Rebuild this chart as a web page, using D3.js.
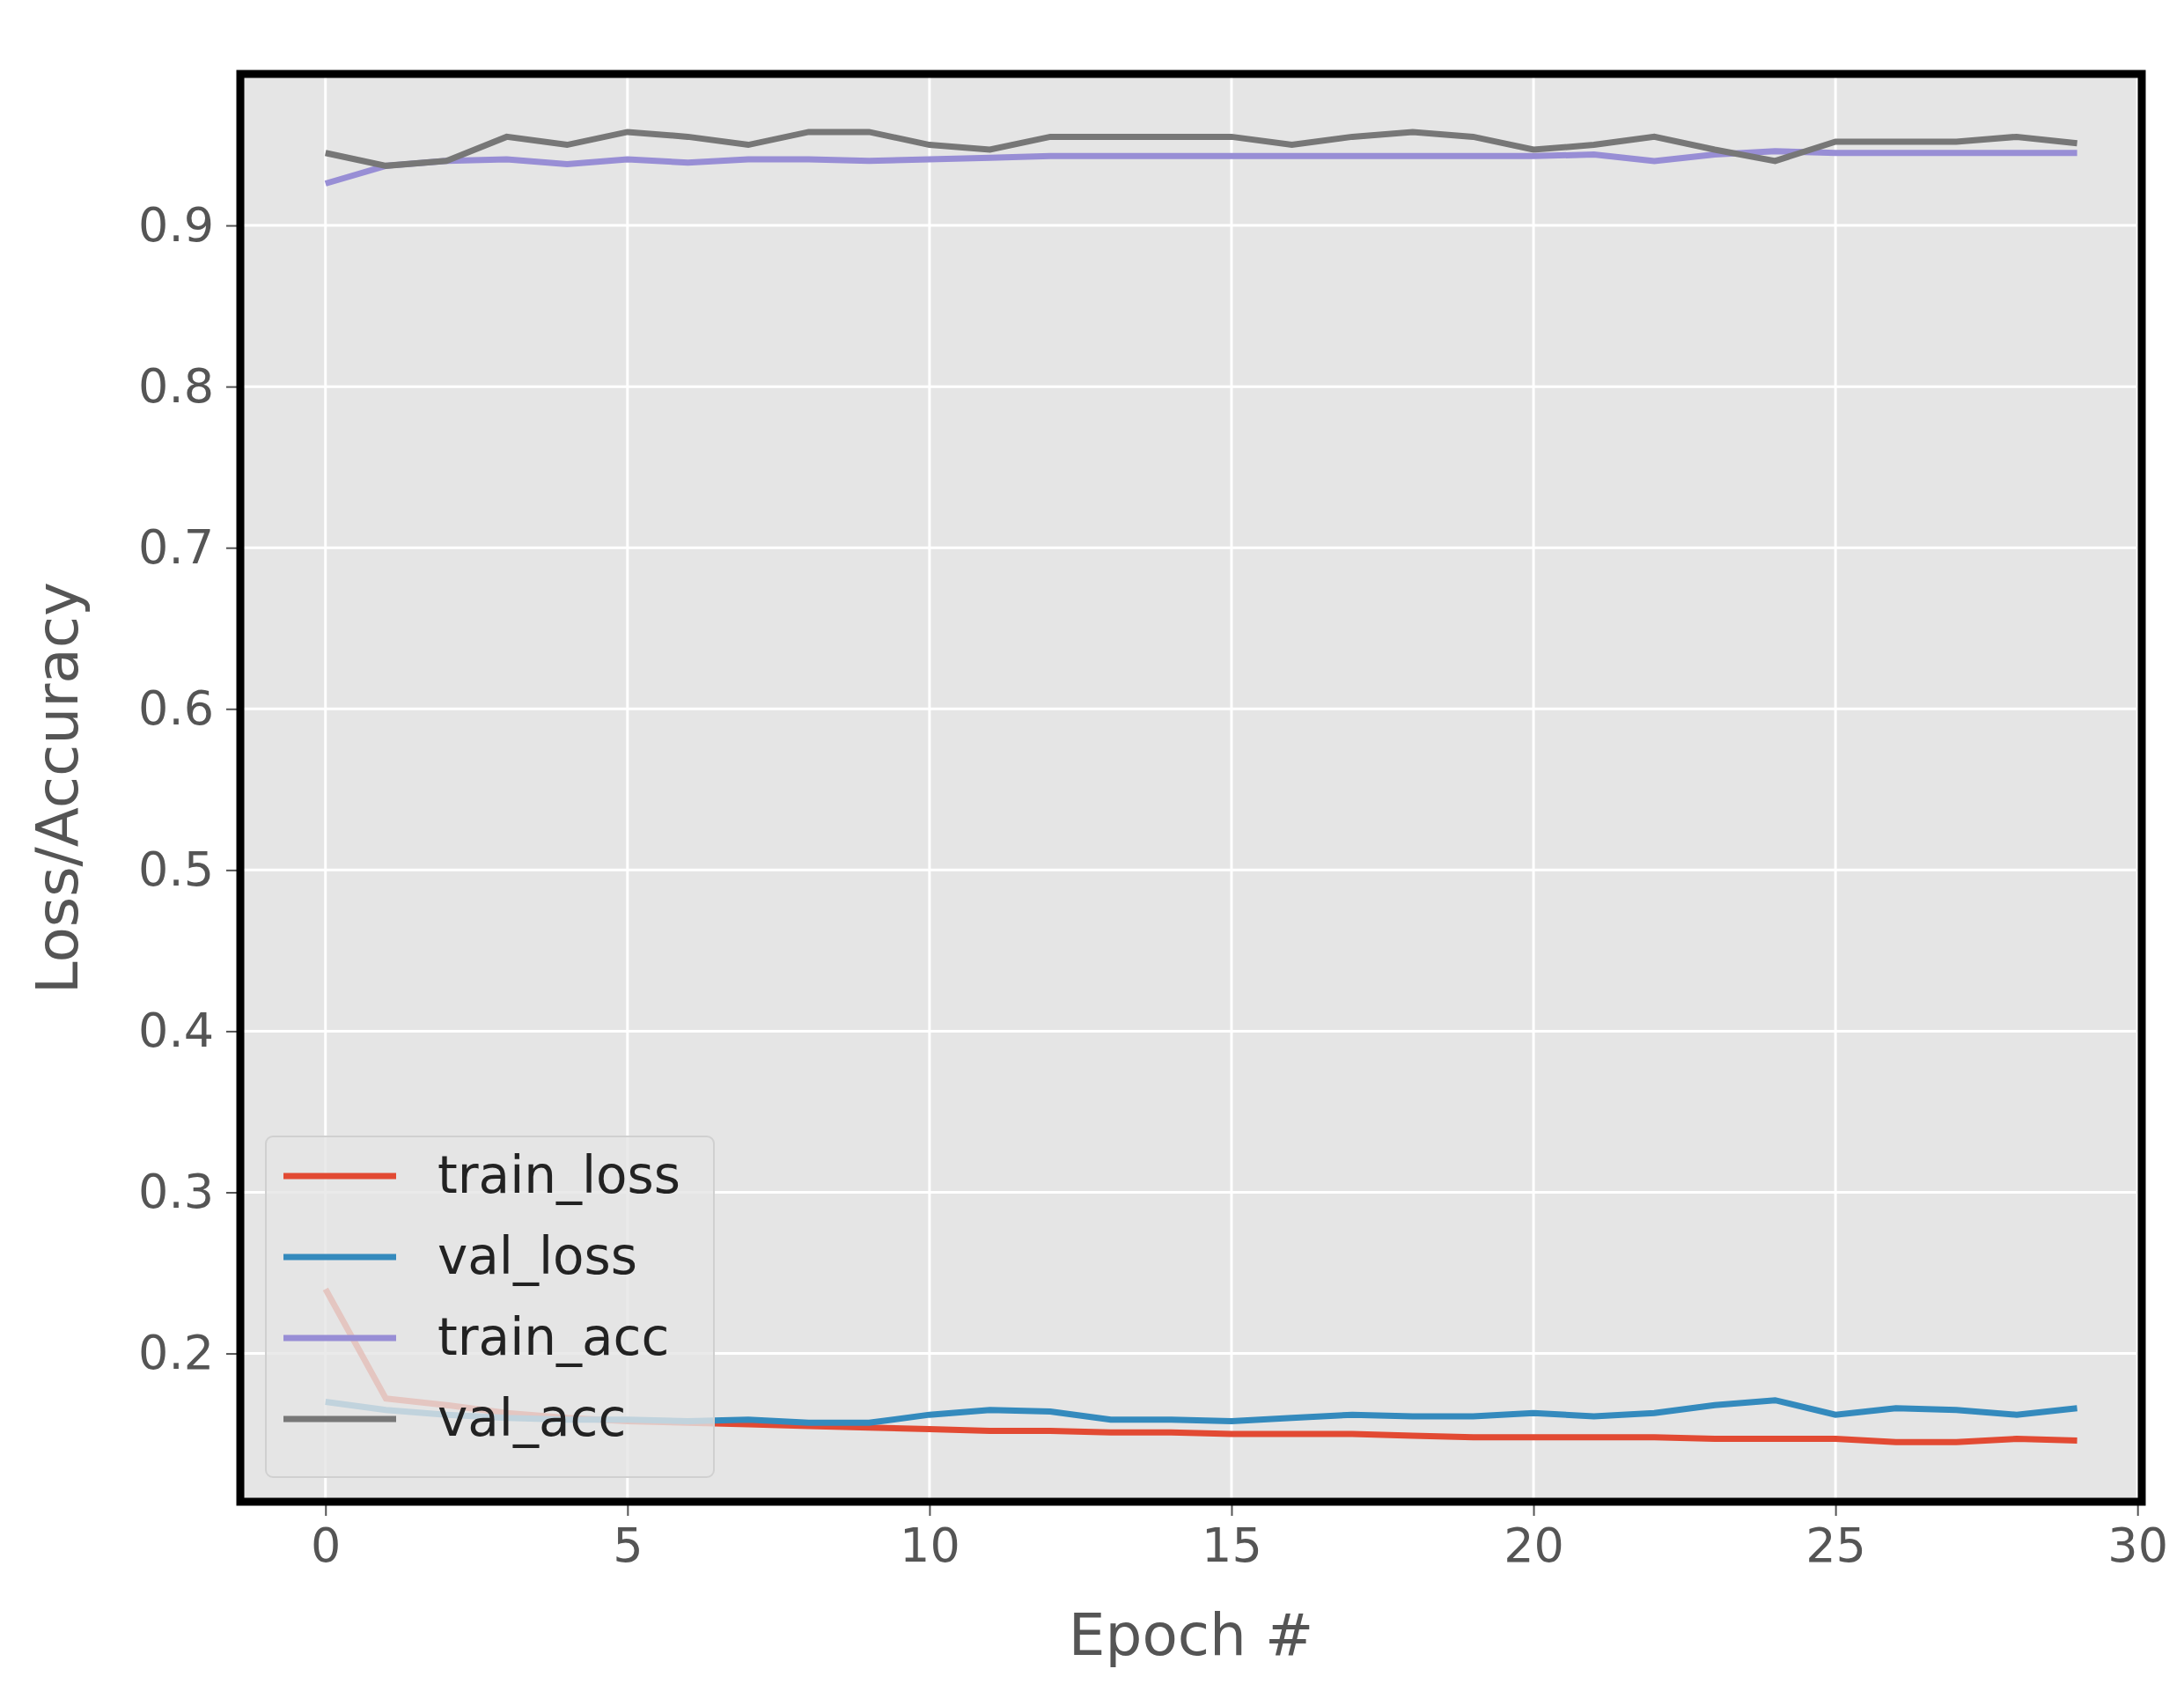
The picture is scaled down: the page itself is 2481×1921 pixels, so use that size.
<!DOCTYPE html>
<html><head><meta charset="utf-8">
<script src="https://cdn.jsdelivr.net/npm/d3@7"></script>
<style>body{margin:0;background:#fff}</style></head>
<body><svg id="c" width="2481" height="1921"></svg>
<script>
const epochs = d3.range(30);
const trainLoss = [0.24,0.172,0.168,0.163,0.16,0.158,0.157,0.156,0.155,0.154,0.153,0.152,0.152,0.151,0.151,0.15,0.15,0.15,0.149,0.148,0.148,0.148,0.148,0.147,0.147,0.147,0.145,0.145,0.147,0.146];
const valLoss = [0.17,0.165,0.162,0.16,0.159,0.159,0.158,0.159,0.157,0.157,0.162,0.165,0.164,0.159,0.159,0.158,0.16,0.162,0.161,0.161,0.163,0.161,0.163,0.168,0.171,0.162,0.166,0.165,0.162,0.166];
const trainAcc = [0.926,0.937,0.94,0.941,0.938,0.941,0.939,0.941,0.941,0.94,0.941,0.942,0.943,0.943,0.943,0.943,0.943,0.943,0.943,0.943,0.943,0.944,0.94,0.944,0.946,0.945,0.945,0.945,0.945,0.945];
const valAcc = [0.945,0.937,0.94,0.955,0.95,0.958,0.955,0.95,0.958,0.958,0.95,0.947,0.955,0.955,0.955,0.955,0.95,0.955,0.958,0.955,0.947,0.95,0.955,0.947,0.94,0.952,0.952,0.952,0.955,0.951];
const xTicks = [0,5,10,15,20,25,30];
const yTicks = [0.2,0.3,0.4,0.5,0.6,0.7,0.8,0.9];
const series = [
  {name:"train_loss", values:trainLoss, color:"#e24a33"},
  {name:"val_loss", values:valLoss, color:"#348abd"},
  {name:"train_acc", values:trainAcc, color:"#988ed5"},
  {name:"val_acc", values:valAcc, color:"#777777"}
];

const L=273, R=2433, T=84, B=1706;
const x = d3.scaleLinear().domain([-1.41,30.07]).range([L,R]);
const y = d3.scaleLinear().domain([0.108,0.994]).range([B,T]);
const svg = d3.select("#c");
const font = "DejaVu Sans";

svg.append("rect").attr("x",L).attr("y",T).attr("width",R-L).attr("height",B-T).attr("fill","#e5e5e5");
svg.append("g").selectAll("line").data(xTicks).join("line")
  .attr("x1",d=>x(d)).attr("x2",d=>x(d)).attr("y1",T).attr("y2",B)
  .attr("stroke","#fff").attr("stroke-width",3);
svg.append("g").selectAll("line").data(yTicks).join("line")
  .attr("y1",d=>y(d)).attr("y2",d=>y(d)).attr("x1",L).attr("x2",R)
  .attr("stroke","#fff").attr("stroke-width",3);

const line = d3.line().x((d,i)=>x(epochs[i])).y(d=>y(d));
svg.append("g").selectAll("path").data(series).join("path")
  .attr("d",d=>line(d.values)).attr("fill","none")
  .attr("stroke",d=>d.color).attr("stroke-width",7);

// axes
const xa = svg.append("g").attr("transform",`translate(0,${B})`)
  .call(d3.axisBottom(x).tickValues(xTicks).tickSize(16).tickPadding(14));
const ya = svg.append("g").attr("transform",`translate(${L},0)`)
  .call(d3.axisLeft(y).tickValues(yTicks).tickFormat(d3.format(".1f")).tickSize(16).tickPadding(14));
[xa,ya].forEach(a=>{
  a.select(".domain").remove();
  a.selectAll(".tick line").attr("stroke","#555").attr("stroke-width",2);
  a.selectAll("text").attr("font-family",font).attr("font-size",54).attr("fill","#555");
});

// legend
const lg = svg.append("g");
lg.append("rect").attr("x",302).attr("y",1291).attr("width",509).attr("height",387).attr("rx",8)
  .attr("fill","#e5e5e5").attr("fill-opacity",0.8).attr("stroke","#d0d0d0").attr("stroke-width",2);
const rows = lg.selectAll("g").data(series).join("g")
  .attr("transform",(d,i)=>`translate(0,${1336+i*92})`);
rows.append("line").attr("x1",322).attr("x2",450).attr("stroke",d=>d.color).attr("stroke-width",7);
rows.append("text").attr("x",497).attr("y",19).text(d=>d.name)
  .attr("font-family",font).attr("font-size",58).attr("fill","#222");

// frame
svg.append("rect").attr("x",L).attr("y",T).attr("width",R-L).attr("height",B-T)
  .attr("fill","none").attr("stroke","#000").attr("stroke-width",9);

svg.append("text").attr("x",(L+R)/2).attr("y",1880).attr("text-anchor","middle")
  .attr("font-family",font).attr("font-size",66).attr("fill","#555").text("Epoch #");
svg.append("text").attr("transform",`translate(88,${(T+B)/2}) rotate(-90)`).attr("text-anchor","middle")
  .attr("font-family",font).attr("font-size",66).attr("fill","#555").text("Loss/Accuracy");
</script></body></html>
